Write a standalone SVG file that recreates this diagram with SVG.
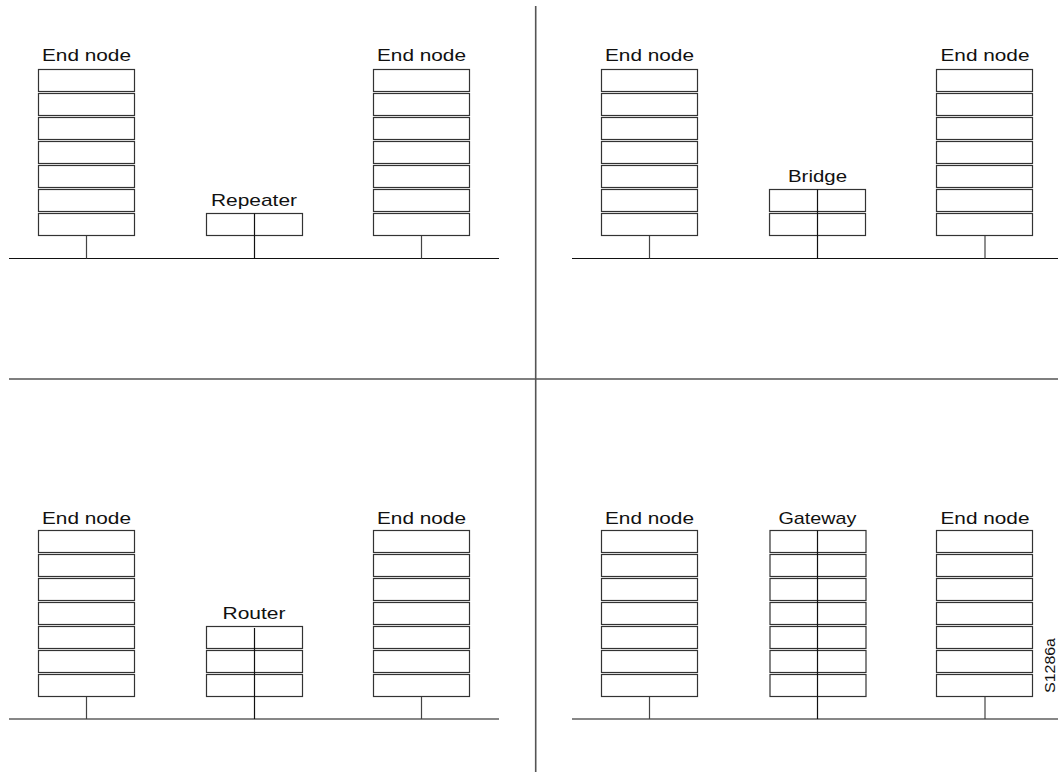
<svg xmlns="http://www.w3.org/2000/svg" width="1058" height="772" viewBox="0 0 1058 772">
<defs>
<style>
.box{fill:#fff;stroke:#333;stroke-width:1.2}
.ln{stroke:#111;stroke-width:1.2;fill:none}
.stem{stroke:#444;stroke-width:1.2;fill:none}
.div{stroke:#555;stroke-width:1.6;fill:none}
.lbl{font-family:"Liberation Sans",Arial,Helvetica,sans-serif;font-size:17px;fill:#111;text-anchor:middle}
.id{font-family:"Liberation Sans",Arial,Helvetica,sans-serif;font-size:14px;fill:#111}
</style>
<g id="stack7">
<rect class="box" x="0" y="0" width="96" height="22"/>
<rect class="box" x="0" y="24" width="96" height="22"/>
<rect class="box" x="0" y="48" width="96" height="22"/>
<rect class="box" x="0" y="72" width="96" height="22"/>
<rect class="box" x="0" y="96" width="96" height="22"/>
<rect class="box" x="0" y="120" width="96" height="22"/>
<rect class="box" x="0" y="144" width="96" height="22"/>
</g>
</defs>
<rect width="1058" height="772" fill="#fff"/>
<g id="dividers">
<line class="div" x1="535.7" y1="6" x2="535.7" y2="772"/>
<line class="div" x1="9" y1="379" x2="1058" y2="379"/>
</g>
<g id="connectors">
<line class="ln" x1="9" y1="258.5" x2="499" y2="258.5"/>
<line class="ln" x1="572" y1="258.5" x2="1058" y2="258.5"/>
<line class="ln" x1="9" y1="719" x2="499" y2="719"/>
<line class="ln" x1="572" y1="719" x2="1058" y2="719"/>
<line class="stem" x1="86.5" y1="235" x2="86.5" y2="258.5"/>
<line class="stem" x1="421.5" y1="235" x2="421.5" y2="258.5"/>
<line class="stem" x1="649.5" y1="235" x2="649.5" y2="258.5"/>
<line class="stem" x1="985" y1="235" x2="985" y2="258.5"/>
<line class="stem" x1="86.5" y1="696" x2="86.5" y2="719"/>
<line class="stem" x1="421.5" y1="696" x2="421.5" y2="719"/>
<line class="stem" x1="649.5" y1="696" x2="649.5" y2="719"/>
<line class="stem" x1="985" y1="696" x2="985" y2="719"/>
</g>
<g id="tl-endnode-left">
<text class="lbl" x="86.5" y="61" textLength="89" lengthAdjust="spacingAndGlyphs">End node</text>
<use href="#stack7" x="38.5" y="69.5"/>
</g>
<g id="tl-endnode-right">
<text class="lbl" x="421.5" y="61" textLength="89" lengthAdjust="spacingAndGlyphs">End node</text>
<use href="#stack7" x="373.5" y="69.5"/>
</g>
<g id="repeater">
<text class="lbl" x="254" y="206" textLength="86" lengthAdjust="spacingAndGlyphs">Repeater</text>
<rect class="box" x="206.5" y="213.5" width="96" height="22"/>
<line class="ln" x1="254.5" y1="213.5" x2="254.5" y2="258.5"/>
</g>
<g id="tr-endnode-left">
<text class="lbl" x="649.5" y="61" textLength="89" lengthAdjust="spacingAndGlyphs">End node</text>
<use href="#stack7" x="601.5" y="69.5"/>
</g>
<g id="bridge">
<text class="lbl" x="817.5" y="181.5" textLength="59" lengthAdjust="spacingAndGlyphs">Bridge</text>
<rect class="box" x="769.5" y="189.5" width="96" height="22"/>
<rect class="box" x="769.5" y="213.5" width="96" height="22"/>
<line class="ln" x1="817.5" y1="189.5" x2="817.5" y2="258.5"/>
</g>
<g id="tr-endnode-right">
<text class="lbl" x="985" y="61" textLength="89" lengthAdjust="spacingAndGlyphs">End node</text>
<use href="#stack7" x="936.5" y="69.5"/>
</g>
<g id="bl-endnode-left">
<text class="lbl" x="86.5" y="524" textLength="89" lengthAdjust="spacingAndGlyphs">End node</text>
<use href="#stack7" x="38.5" y="530.5"/>
</g>
<g id="bl-endnode-right">
<text class="lbl" x="421.5" y="524" textLength="89" lengthAdjust="spacingAndGlyphs">End node</text>
<use href="#stack7" x="373.5" y="530.5"/>
</g>
<g id="router">
<text class="lbl" x="254" y="619" textLength="63" lengthAdjust="spacingAndGlyphs">Router</text>
<rect class="box" x="206.5" y="626.5" width="96" height="22"/>
<rect class="box" x="206.5" y="650.5" width="96" height="22"/>
<rect class="box" x="206.5" y="674.5" width="96" height="22"/>
<line class="ln" x1="254.5" y1="628" x2="254.5" y2="719"/>
</g>
<g id="br-endnode-left">
<text class="lbl" x="649.5" y="524" textLength="89" lengthAdjust="spacingAndGlyphs">End node</text>
<use href="#stack7" x="601.5" y="530.5"/>
</g>
<g id="gateway">
<text class="lbl" x="817.5" y="524" textLength="78" lengthAdjust="spacingAndGlyphs">Gateway</text>
<use href="#stack7" x="770" y="530.5"/>
<line class="ln" x1="817.5" y1="530.5" x2="817.5" y2="719"/>
</g>
<g id="br-endnode-right">
<text class="lbl" x="985" y="524" textLength="89" lengthAdjust="spacingAndGlyphs">End node</text>
<use href="#stack7" x="936.5" y="530.5"/>
</g>
<text class="id" transform="translate(1055,693) rotate(-90)" textLength="55" lengthAdjust="spacingAndGlyphs">S1286a</text>
</svg>
